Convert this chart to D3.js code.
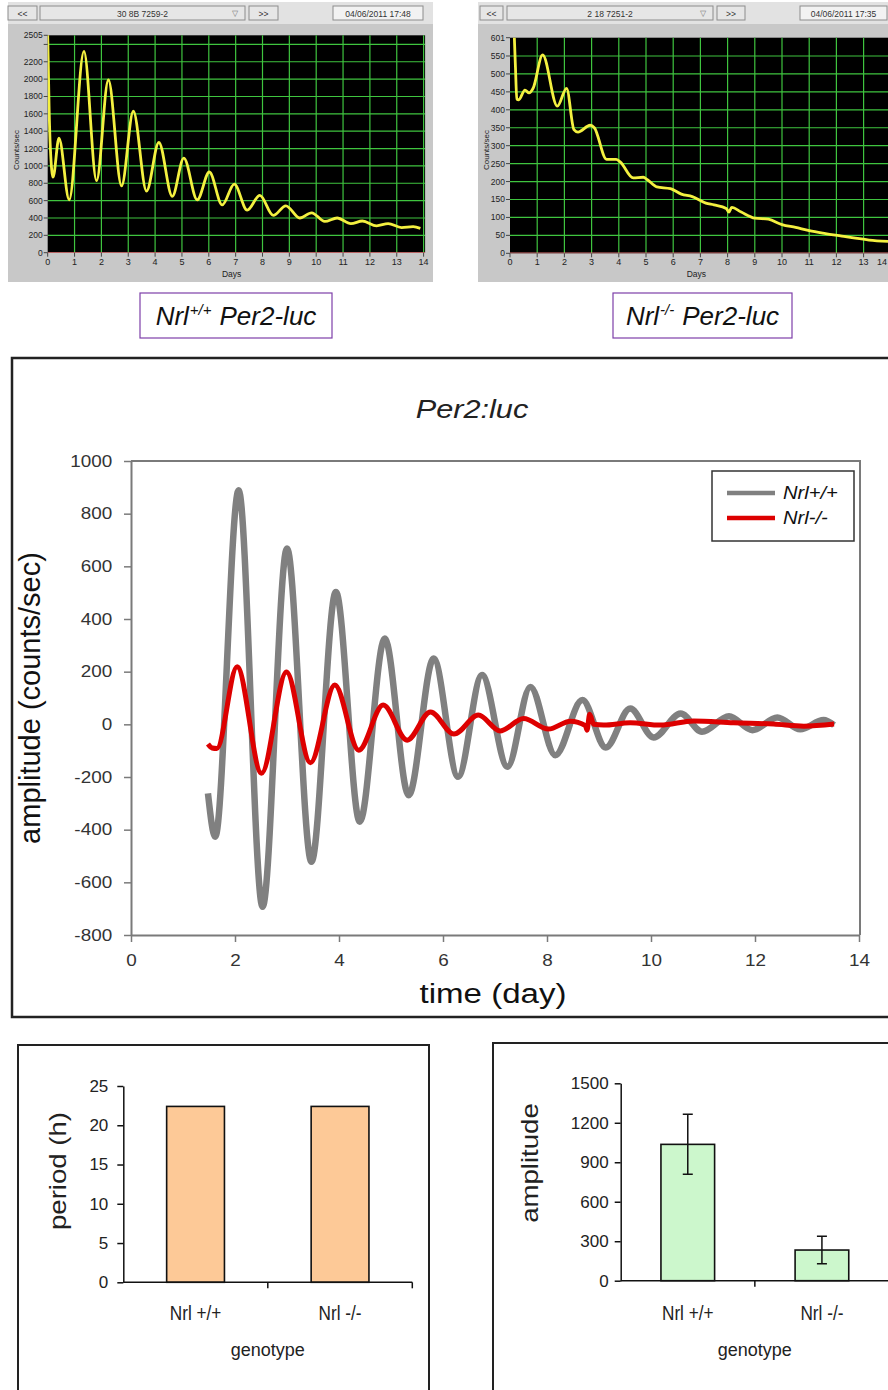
<!DOCTYPE html>
<html>
<head>
<meta charset="utf-8">
<title>Per2-luc</title>
<style>
  body { margin:0; background:#fff; }
  svg text { font-family: "Liberation Sans", Arial, sans-serif; }
</style>
</head>
<body>
<svg id="fig" width="888" height="1390"></svg>
<script src="https://d3js.org/d3.v7.min.js"></script>
<script>
// raw LumiCycle traces, days vs counts/sec
var wtRawDay = [0, 0.02, 0.05, 0.1, 0.2, 0.42, 0.8, 1.35, 1.82, 2.26, 2.75, 3.19, 3.68, 4.14, 4.64, 5.07, 5.57, 6.02, 6.5, 6.95, 7.43, 7.9, 8.4, 8.87, 9.39, 9.83, 10.32, 10.78, 11.29, 11.72, 12.25, 12.68, 13.18, 13.61, 13.88];
var wtRawCounts = [2505, 2200, 1700, 1200, 870, 1320, 610, 2320, 830, 1990, 770, 1630, 710, 1270, 650, 1090, 610, 930, 550, 790, 490, 660, 430, 540, 400, 460, 360, 400, 335, 365, 310, 335, 290, 300, 280];
var koRawDay = [0.16, 0.2, 0.25, 0.32, 0.55, 0.7, 0.85, 1.2, 1.74, 2.08, 2.35, 2.5, 2.95, 3.1, 3.55, 3.9, 4.05, 4.53, 4.9, 5.05, 5.4, 5.9, 6.3, 6.7, 7.2, 7.5, 7.95, 8.05, 8.15, 8.5, 9.0, 9.5, 10.0, 10.5, 11.0, 11.6, 12.2, 12.7, 13.2, 13.9];
var koRawCounts = [601, 520, 430, 428, 455, 447, 460, 553, 410, 460, 345, 338, 357, 350, 262, 262, 255, 210, 212, 205, 185, 180, 165, 158, 140, 135, 125, 115, 128, 115, 98, 95, 80, 72, 63, 55, 48, 42, 37, 33];

// detrended amplitude (counts/sec)
var wtDay = [1.48, 1.62, 2.07, 2.53, 3.0, 3.47, 3.94, 4.40, 4.88, 5.34, 5.82, 6.29, 6.75, 7.24, 7.68, 8.16, 8.68, 9.13, 9.6, 10.05, 10.57, 10.98, 11.5, 11.95, 12.43, 12.87, 13.32, 13.52];
var wtAmp = [-262, -427, 889, -693, 668, -522, 503, -370, 326, -269, 250, -199, 187, -161, 142, -117, 92, -88, 60, -50, 41, -28, 31, -22, 26, -19, 16, -3];
var koDay = [1.48, 1.56, 1.65, 2.04, 2.51, 2.99, 3.45, 3.92, 4.38, 4.85, 5.31, 5.76, 6.21, 6.68, 7.1, 7.55, 8.03, 8.45, 8.74, 8.77, 8.82, 8.9, 9.09, 9.6, 10.18, 10.82, 11.59, 12.36, 12.94, 13.52];
var koAmp = [-75, -90, -92, 219, -186, 199, -146, 149, -98, 73, -60, 47, -37, 35, -25, 22, -18, 12, -5, -22, 38, 0, -3, 6, -3, 13, 6, 1, -7, 1];

var mainXTicks = [0, 2, 4, 6, 8, 10, 12, 14];
var mainYTicks = [-800, -600, -400, -200, 0, 200, 400, 600, 800, 1000];

// bar charts
var genotypes = ["Nrl +/+", "Nrl -/-"];
var periodHours = [22.4, 22.4];
var periodTicks = [0, 5, 10, 15, 20, 25];
var amplitudeMean = [1036, 233];
var amplitudeErr = [228, 105];
var amplitudeTicks = [0, 300, 600, 900, 1200, 1500];

var svg = d3.select("#fig");
var line = d3.line().curve(d3.curveMonotoneX);
var plain = function(d) { return String(d); };   // no thousands comma, ascii minus

// ---------- top: the two LumiCycle screenshots ----------
function monitor(cfg) {
  var g = svg.append("g");
  g.append("rect").attr("x", cfg.px).attr("y", 2).attr("width", cfg.pw).attr("height", 280).attr("fill", "#c8c8c8");
  g.append("rect").attr("x", cfg.px).attr("y", 2).attr("width", cfg.pw).attr("height", 22).attr("fill", "#e2e2e2");

  cfg.buttons.forEach(function(b) {
    g.append("rect").attr("x", b[0]).attr("y", 6).attr("width", b[1] - b[0]).attr("height", 14)
      .attr("fill", b[3]).attr("stroke", "#8c8c8c");
    g.append("text").attr("x", (b[0] + b[1]) / 2).attr("y", 16.5).attr("text-anchor", "middle")
      .attr("font-size", 8.5).attr("fill", "#333").text(b[2]);
  });
  g.append("text").attr("x", cfg.buttons[1][1] - 10).attr("y", 16).attr("text-anchor", "middle")
    .attr("font-size", 8).attr("fill", "#777").text("\u25BD");

  var x = d3.scaleLinear().domain([0, 14]).range([cfg.x0, cfg.x1]);
  var y = d3.scaleLinear().domain([0, cfg.ymax]).range([cfg.y0, cfg.y1]);
  var right = Math.min(cfg.x1 + 1.5, 888);

  g.append("rect").attr("x", cfg.x0).attr("y", cfg.y1).attr("width", right - cfg.x0)
    .attr("height", cfg.y0 - cfg.y1).attr("fill", "#000");

  var clipId = "clip" + cfg.px;
  g.append("clipPath").attr("id", clipId).append("rect")
    .attr("x", cfg.x0).attr("y", cfg.y1 - 2).attr("width", right - cfg.x0).attr("height", cfg.y0 - cfg.y1 + 2);
  var plot = g.append("g").attr("clip-path", "url(#" + clipId + ")");

  plot.selectAll(".hg").data(cfg.grid).enter().append("line")
    .attr("x1", cfg.x0).attr("x2", right).attr("y1", function(d) { return y(d); }).attr("y2", function(d) { return y(d); })
    .attr("stroke", "#3fc43f").attr("stroke-width", 1.2);
  plot.selectAll(".vg").data(d3.range(1, 15)).enter().append("line")
    .attr("x1", function(d) { return x(d); }).attr("x2", function(d) { return x(d); })
    .attr("y1", cfg.y1).attr("y2", cfg.y0)
    .attr("stroke", "#3fc43f").attr("stroke-width", 1.2);
  plot.append("line").attr("x1", cfg.x0).attr("x2", right).attr("y1", y(0)).attr("y2", y(0))
    .attr("stroke", "#e07070").attr("stroke-width", 1.5);

  plot.append("path").attr("d", line(d3.zip(cfg.day, cfg.counts).map(function(d) { return [x(d[0]), y(d[1])]; })))
    .attr("fill", "none").attr("stroke", "#f4f040").attr("stroke-width", 2.8);

  // y ticks + labels
  cfg.yTicks.forEach(function(v, i) {
    g.append("line").attr("x1", cfg.x0 - 4).attr("x2", cfg.x0).attr("y1", y(v)).attr("y2", y(v)).attr("stroke", "#444");
    if (cfg.yLabels[i] !== "")
      g.append("text").attr("x", cfg.x0 - 5).attr("y", y(v) + 3).attr("text-anchor", "end")
        .attr("font-size", 8.5).attr("fill", "#222").text(cfg.yLabels[i]);
  });
  d3.range(0, 15).forEach(function(d) {
    var lx = Math.min(x(d), 882);
    g.append("line").attr("x1", x(d)).attr("x2", x(d)).attr("y1", cfg.y0).attr("y2", cfg.y0 + 4).attr("stroke", "#444");
    g.append("text").attr("x", lx).attr("y", cfg.y0 + 12).attr("text-anchor", "middle")
      .attr("font-size", 9).attr("fill", "#222").text(d);
  });
  g.append("text").attr("x", (cfg.x0 + cfg.x1) / 2 - 4).attr("y", 277).attr("text-anchor", "middle")
    .attr("font-size", 8.5).attr("fill", "#222").text("Days");
  g.append("text").attr("transform", "translate(" + (cfg.px + 11) + ",150) rotate(-90)")
    .attr("text-anchor", "middle").attr("font-size", 8).attr("fill", "#222").text("Counts/sec");
}

monitor({
  px: 8, pw: 425, x0: 47.7, x1: 423.6, y0: 252.7, y1: 35.3, ymax: 2505,
  grid: d3.range(200, 2401, 200),
  yTicks: [0, 200, 400, 600, 800, 1000, 1200, 1400, 1600, 1800, 2000, 2200, 2400, 2505],
  yLabels: ["0", "200", "400", "600", "800", "1000", "1200", "1400", "1600", "1800", "2000", "2200", "", "2505"],
  day: wtRawDay, counts: wtRawCounts,
  buttons: [[8, 37, "<<", "#e6e6e6"], [40, 245, "30  8B  7259-2", "#e6e6e6"], [249, 278, ">>", "#e6e6e6"], [333, 423, "04/06/2011 17:48", "#f2f2f2"]]
});
monitor({
  px: 478, pw: 412, x0: 510, x1: 890.8, y0: 253.3, y1: 37.7, ymax: 601,
  grid: d3.range(50, 551, 50),
  yTicks: [0, 50, 100, 150, 200, 250, 300, 350, 400, 450, 500, 550, 601],
  yLabels: ["0", "50", "100", "150", "200", "250", "300", "350", "400", "450", "500", "550", "601"],
  day: koRawDay, counts: koRawCounts,
  buttons: [[480, 503, "<<", "#e6e6e6"], [507, 713, "2  18  7251-2", "#e6e6e6"], [717, 745, ">>", "#e6e6e6"], [800, 887, "04/06/2011 17:35", "#f2f2f2"]]
});

// genotype captions
function caption(x, w, sup) {
  svg.append("rect").attr("x", x).attr("y", 293).attr("width", w).attr("height", 45)
    .attr("fill", "#fff").attr("stroke", "#7d3fa8").attr("stroke-width", 1.2);
  var t = svg.append("text").attr("x", x + w / 2).attr("y", 325).attr("text-anchor", "middle")
    .attr("font-family", "Lato, 'Open Sans', sans-serif").attr("font-style", "italic").attr("font-size", 26).attr("fill", "#111");
  t.append("tspan").text("Nrl");
  t.append("tspan").attr("font-size", 15).attr("dy", -10).attr("dx", 1).text(sup);
  t.append("tspan").attr("dy", 10).attr("dx", 8).text("Per2-luc");
}
caption(140, 192, "+/+");
caption(613, 179, "-/-");

// ---------- middle: detrended Per2:luc ----------
svg.append("rect").attr("x", 12).attr("y", 358).attr("width", 900).attr("height", 659)
  .attr("fill", "none").attr("stroke", "#222").attr("stroke-width", 2.5);

var mx = d3.scaleLinear().domain([0, 14]).range([131, 859]);
var my = d3.scaleLinear().domain([-800, 1000]).range([935, 461]);
var sx = 1.18;

var gy = svg.append("g").attr("transform", "translate(131,0)")
  .call(d3.axisLeft(my).tickValues(mainYTicks).tickFormat(plain).tickSize(7).tickSizeOuter(0).tickPadding(9));
var gx = svg.append("g").attr("transform", "translate(0,935)")
  .call(d3.axisBottom(mx).tickValues(mainXTicks).tickFormat(plain).tickSize(7).tickSizeOuter(0).tickPadding(13));
[gy, gx].forEach(function(a) {
  a.select(".domain").attr("stroke", "#7a7a7a").attr("stroke-width", 2);
  a.selectAll(".tick line").attr("stroke", "#7a7a7a").attr("stroke-width", 1.5);
  a.selectAll(".tick text").attr("font-family", "'Liberation Sans', Arial, sans-serif")
    .attr("font-size", 16).attr("fill", "#333").attr("transform", "scale(" + sx + ",1)");
});
svg.append("path").attr("d", "M131," + my(1000) + "H" + (mx(14) + 1) + "V" + my(-800))
  .attr("fill", "none").attr("stroke", "#7a7a7a").attr("stroke-width", 2);

svg.append("path").attr("d", line(wtDay.map(function(d, i) { return [mx(d), my(wtAmp[i])]; })))
  .attr("fill", "none").attr("stroke", "#808080").attr("stroke-width", 6.5);
svg.append("path").attr("d", line(koDay.map(function(d, i) { return [mx(d), my(koAmp[i])]; })))
  .attr("fill", "none").attr("stroke", "#dd0000").attr("stroke-width", 5);

svg.append("text").attr("transform", "translate(472,418) scale(" + sx + ",1)").attr("text-anchor", "middle")
  .attr("font-style", "italic").attr("font-size", 26).attr("fill", "#222").text("Per2:luc");
svg.append("text").attr("transform", "translate(493,1003) scale(" + sx + ",1)").attr("text-anchor", "middle")
  .attr("font-size", 28).attr("fill", "#111").text("time (day)");
svg.append("text").attr("transform", "translate(40,698) rotate(-90)").attr("text-anchor", "middle")
  .attr("font-size", 29).attr("fill", "#111").text("amplitude (counts/sec)");

// legend
var leg = svg.append("g");
leg.append("rect").attr("x", 712).attr("y", 471).attr("width", 142).attr("height", 70)
  .attr("fill", "#fff").attr("stroke", "#333").attr("stroke-width", 1.5);
[["Nrl+/+", "#808080", 493], ["Nrl-/-", "#dd0000", 518]].forEach(function(l) {
  leg.append("line").attr("x1", 727).attr("x2", 775).attr("y1", l[2]).attr("y2", l[2])
    .attr("stroke", l[1]).attr("stroke-width", 4.5);
  leg.append("text").attr("transform", "translate(783," + (l[2] + 6) + ") scale(1.12,1)")
    .attr("font-style", "italic").attr("font-size", 18).attr("fill", "#111").text(l[0]);
});

// ---------- bottom: bar charts ----------
function barPanel(cfg) {
  var g = svg.append("g");
  g.append("rect").attr("x", cfg.bx).attr("y", cfg.by).attr("width", cfg.bw).attr("height", 400)
    .attr("fill", "none").attr("stroke", "#222").attr("stroke-width", 2);

  var x = d3.scaleBand().domain(genotypes).range([cfg.x0, cfg.x1]).paddingInner(0.6).paddingOuter(0.3);
  var y = d3.scaleLinear().domain([0, cfg.ymax]).range([cfg.y0, cfg.y1]);

  g.selectAll(".bar").data(cfg.values).enter().append("rect")
    .attr("x", function(d, i) { return x(genotypes[i]); })
    .attr("y", function(d) { return y(d); })
    .attr("width", x.bandwidth())
    .attr("height", function(d) { return y(0) - y(d); })
    .attr("fill", cfg.fill).attr("stroke", "#111").attr("stroke-width", 1.6);

  if (cfg.err) {
    cfg.values.forEach(function(v, i) {
      var cx = x(genotypes[i]) + x.bandwidth() / 2;
      g.append("path").attr("d", "M" + (cx - 5) + "," + y(v + cfg.err[i]) + "H" + (cx + 5) +
        "M" + cx + "," + y(v + cfg.err[i]) + "V" + y(v - cfg.err[i]) +
        "M" + (cx - 5) + "," + y(v - cfg.err[i]) + "H" + (cx + 5))
        .attr("fill", "none").attr("stroke", "#111").attr("stroke-width", 1.5);
    });
  }

  var ay = g.append("g").attr("transform", "translate(" + cfg.x0 + ",0)")
    .call(d3.axisLeft(y).tickValues(cfg.ticks).tickFormat(plain).tickSize(6).tickSizeOuter(0).tickPadding(cfg.pad));
  ay.select(".domain").attr("stroke", "#111").attr("stroke-width", 1.5);
  ay.selectAll(".tick line").attr("stroke", "#111").attr("stroke-width", 1.5);
  ay.selectAll(".tick text").attr("font-family", "'Liberation Sans', Arial, sans-serif")
    .attr("font-size", 17).attr("fill", "#222");

  // category axis with ticks between the bars
  g.append("line").attr("x1", cfg.x0).attr("x2", cfg.x1).attr("y1", y(0)).attr("y2", y(0))
    .attr("stroke", "#111").attr("stroke-width", 1.6);
  [1, 2].forEach(function(k) {
    var tx = cfg.x0 + x.step() * k;
    g.append("line").attr("x1", tx).attr("x2", tx).attr("y1", y(0)).attr("y2", y(0) + 6)
      .attr("stroke", "#111").attr("stroke-width", 1.5);
  });
  genotypes.forEach(function(c) {
    g.append("text").attr("transform", "translate(" + (x(c) + x.bandwidth() / 2) + ",1320) scale(0.86,1)")
      .attr("text-anchor", "middle").attr("font-size", 20).attr("fill", "#222").text(c);
  });
  g.append("text").attr("x", cfg.x0 + x.step()).attr("y", 1356)
    .attr("text-anchor", "middle").attr("font-size", 18).attr("fill", "#222").text("genotype");
  g.append("text").attr("transform", "translate(" + cfg.tx + "," + cfg.ty + ") rotate(-90) scale(1.2,1)")
    .attr("text-anchor", "middle").attr("font-size", 23).attr("fill", "#222").text(cfg.title);
}

barPanel({
  bx: 18, by: 1045, bw: 411, x0: 123.3, x1: 412.3, y0: 1282.3, y1: 1086, ymax: 25,
  values: periodHours, ticks: periodTicks, fill: "#fdc997", pad: 9,
  title: "period (h)", tx: 66, ty: 1171
});
barPanel({
  bx: 493, by: 1043, bw: 420, x0: 620.7, x1: 889, y0: 1280.7, y1: 1083.3, ymax: 1500,
  values: amplitudeMean, err: amplitudeErr, ticks: amplitudeTicks, fill: "#ccf7cc", pad: 6,
  title: "amplitude", tx: 538, ty: 1163
});
</script>
</body>
</html>
